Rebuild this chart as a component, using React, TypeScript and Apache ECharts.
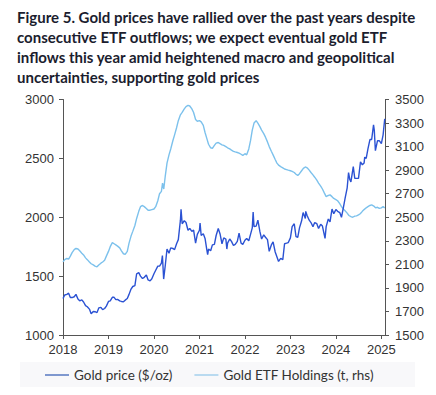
import React, { useEffect, useRef } from "react";
import * as echarts from "echarts";

const titleLines = [
  "Figure 5. Gold prices have rallied over the past years despite",
  "consecutive ETF outflows; we expect eventual gold ETF",
  "inflows this year amid heightened macro and geopolitical",
  "uncertainties, supporting gold prices",
];

const seriesNames = ["Gold price ($/oz)", "Gold ETF Holdings (t, rhs)"];
const yearTicks = [2018, 2019, 2020, 2021, 2022, 2023, 2024, 2025];

const goldDates = [
  "2018-01-01","2018-01-15","2018-02-01","2018-02-15","2018-03-01","2018-03-15","2018-04-01","2018-04-15","2018-05-01","2018-05-15","2018-06-01","2018-06-15","2018-07-01","2018-07-15","2018-08-01","2018-08-15","2018-09-01","2018-09-15","2018-10-01","2018-10-15","2018-11-01","2018-11-15","2018-12-01","2018-12-15",
  "2019-01-01","2019-01-15","2019-02-01","2019-02-15","2019-03-01","2019-03-15","2019-04-01","2019-04-15","2019-05-01","2019-05-15","2019-06-01","2019-06-15","2019-07-01","2019-07-15","2019-08-01","2019-08-15","2019-09-01","2019-09-15","2019-10-01","2019-10-15","2019-11-01","2019-11-15","2019-12-01","2019-12-15",
  "2020-01-01","2020-01-15","2020-02-01","2020-02-15","2020-03-01","2020-03-09","2020-03-19","2020-04-01","2020-04-15","2020-05-01","2020-05-15","2020-06-01","2020-06-15","2020-07-01","2020-07-15","2020-08-01","2020-08-06","2020-08-15","2020-09-01","2020-09-15","2020-10-01","2020-10-15","2020-11-01","2020-11-15","2020-12-01","2020-12-15",
  "2021-01-01","2021-01-06","2021-01-15","2021-02-01","2021-02-15","2021-03-01","2021-03-08","2021-03-15","2021-04-01","2021-04-15","2021-05-01","2021-05-15","2021-06-01","2021-06-15","2021-07-01","2021-07-15","2021-08-01","2021-08-09","2021-08-15","2021-09-01","2021-09-15","2021-10-01","2021-10-15","2021-11-01","2021-11-15","2021-12-01","2021-12-15",
  "2022-01-01","2022-01-15","2022-02-01","2022-02-15","2022-03-01","2022-03-08","2022-03-15","2022-04-01","2022-04-15","2022-05-01","2022-05-15","2022-06-01","2022-06-15","2022-07-01","2022-07-15","2022-08-01","2022-08-15","2022-09-01","2022-09-28","2022-10-15","2022-11-01","2022-11-15","2022-12-01","2022-12-15",
  "2023-01-01","2023-01-15","2023-02-01","2023-02-15","2023-03-01","2023-03-15","2023-04-01","2023-04-13","2023-05-01","2023-05-04","2023-05-15","2023-06-01","2023-06-15","2023-07-01","2023-07-15","2023-08-01","2023-08-15","2023-09-01","2023-09-15","2023-10-06","2023-10-15","2023-11-01","2023-11-15","2023-12-01","2023-12-15",
  "2024-01-01","2024-01-15","2024-02-01","2024-02-15","2024-03-01","2024-03-15","2024-04-01","2024-04-12","2024-04-22","2024-05-01","2024-05-20","2024-06-01","2024-06-15","2024-07-01","2024-07-17","2024-08-01","2024-08-15","2024-08-20","2024-09-01","2024-09-15","2024-10-01","2024-10-15","2024-10-30","2024-11-05","2024-11-14","2024-12-01","2024-12-15",
  "2025-01-01","2025-01-15","2025-01-28",
];
const goldValues = [
  1310,1340,1345,1355,1318,1318,1325,1345,1305,1290,1298,1280,1250,1240,1220,1180,1200,1198,1190,1230,1235,1215,1225,1245,
  1285,1290,1320,1320,1300,1302,1290,1285,1282,1296,1310,1345,1390,1412,1420,1520,1530,1500,1480,1490,1510,1468,1460,1478,
  1520,1550,1585,1585,1610,1675,1475,1590,1730,1695,1740,1735,1725,1775,1810,1975,2067,1945,1970,1955,1890,1905,1880,1890,1780,1855,
  1890,1950,1845,1860,1820,1725,1683,1730,1715,1765,1770,1845,1905,1860,1775,1825,1815,1730,1780,1815,1795,1760,1770,1795,1865,1780,1770,
  1805,1820,1800,1855,1910,2045,1920,1925,1975,1880,1815,1850,1830,1810,1710,1765,1790,1705,1625,1650,1640,1775,1780,1785,
  1825,1920,1945,1835,1830,1910,1970,2040,1990,2050,2015,1975,1955,1920,1955,1945,1905,1940,1925,1820,1920,1985,1960,2070,2030,
  2065,2050,2040,2000,2080,2160,2250,2380,2320,2300,2430,2330,2330,2330,2470,2445,2460,2510,2500,2580,2660,2660,2785,2740,2565,2650,2650,
  2625,2700,2835,
];

const etfDates = [
  "2018-01-01","2018-01-15","2018-02-01","2018-02-15","2018-03-01","2018-03-15","2018-04-01","2018-04-15","2018-05-01","2018-05-15","2018-06-01","2018-06-15","2018-07-01","2018-07-15","2018-08-01","2018-08-15","2018-09-01","2018-09-15","2018-10-01","2018-10-15","2018-11-01","2018-11-15","2018-12-01","2018-12-15",
  "2019-01-01","2019-01-15","2019-02-01","2019-02-15","2019-03-01","2019-03-15","2019-04-01","2019-04-15","2019-05-01","2019-05-15","2019-06-01","2019-06-15","2019-07-01","2019-07-15","2019-08-01","2019-08-15","2019-09-01","2019-09-15","2019-10-01","2019-10-15","2019-11-01","2019-11-15","2019-12-01","2019-12-15",
  "2020-01-01","2020-01-15","2020-02-01","2020-02-15","2020-03-01","2020-03-10","2020-03-20","2020-04-01","2020-04-15","2020-05-01","2020-05-15","2020-06-01","2020-06-15","2020-07-01","2020-07-15","2020-08-01","2020-08-15","2020-09-01","2020-09-15","2020-10-01","2020-10-15","2020-11-01","2020-11-15","2020-12-01","2020-12-15",
  "2021-01-01","2021-01-15","2021-02-01","2021-02-15","2021-03-01","2021-03-15","2021-04-01","2021-04-15","2021-05-01","2021-05-15","2021-06-01","2021-06-15","2021-07-01","2021-07-15","2021-08-01","2021-08-15","2021-09-01","2021-09-15","2021-10-01","2021-10-15","2021-11-01","2021-11-15","2021-12-01","2021-12-15",
  "2022-01-01","2022-01-15","2022-02-01","2022-02-15","2022-03-01","2022-03-15","2022-04-01","2022-04-15","2022-05-01","2022-05-15","2022-06-01","2022-06-15","2022-07-01","2022-07-15","2022-08-01","2022-08-15","2022-09-01","2022-09-15","2022-10-01","2022-10-15","2022-11-01","2022-11-15","2022-12-01","2022-12-15",
  "2023-01-01","2023-01-15","2023-02-01","2023-02-15","2023-03-01","2023-03-15","2023-04-01","2023-04-15","2023-05-01","2023-05-15","2023-06-01","2023-06-15","2023-07-01","2023-07-15","2023-08-01","2023-08-15","2023-09-01","2023-09-15","2023-10-01","2023-10-15","2023-11-01","2023-11-15","2023-12-01","2023-12-15",
  "2024-01-01","2024-01-15","2024-02-01","2024-02-15","2024-03-01","2024-03-15","2024-04-01","2024-04-15","2024-05-01","2024-05-15","2024-06-01","2024-06-15","2024-07-01","2024-07-15","2024-08-01","2024-08-15","2024-09-01","2024-09-15","2024-10-01","2024-10-15","2024-11-01","2024-11-15","2024-12-01","2024-12-15",
  "2025-01-01","2025-01-15","2025-01-28",
];
const etfValues = [
  2121,2140,2150,2145,2170,2200,2225,2235,2230,2215,2195,2180,2155,2140,2120,2105,2095,2085,2079,2095,2110,2120,2135,2170,
  2210,2250,2285,2275,2265,2255,2240,2215,2190,2185,2210,2280,2340,2380,2430,2490,2550,2590,2600,2590,2575,2560,2560,2565,
  2570,2590,2640,2700,2720,2790,2740,2850,2960,3030,3080,3150,3200,3260,3320,3370,3390,3420,3440,3450,3445,3420,3390,3330,3315,
  3320,3310,3280,3220,3170,3120,3090,3085,3110,3130,3135,3125,3115,3110,3100,3090,3080,3070,3060,3055,3050,3045,3035,3025,
  3040,3030,3080,3150,3240,3300,3320,3300,3270,3240,3210,3180,3140,3100,3060,3030,2990,2960,2940,2930,2920,2910,2905,2900,
  2895,2890,2880,2865,2855,2870,2895,2915,2927,2920,2900,2880,2860,2840,2815,2790,2765,2740,2705,2675,2685,2690,2675,2660,
  2650,2640,2615,2590,2570,2555,2535,2515,2505,2500,2510,2512,2520,2530,2550,2565,2580,2590,2600,2605,2595,2580,2585,2575,
  2580,2590,2580,
];

const toYear = (s: string) => {
  const [y, m, d] = s.split("-").map(Number);
  const start = Date.UTC(y, 0, 1);
  const end = Date.UTC(y + 1, 0, 1);
  return y + (Date.UTC(y, m - 1, d) - start) / (end - start);
};

export default function App() {
  const ref = useRef<HTMLDivElement>(null);
  useEffect(() => {
    if (!ref.current) return;
    const chart = echarts.init(ref.current, null, { renderer: "svg" });
    const axisFont = { fontFamily: "Liberation Sans, Arial, sans-serif", fontSize: 13, color: "#333" };
    const plain = (v: number) => String(v);
    chart.setOption({
      animation: false,
      backgroundColor: "#fff",
      graphic: [
        { type: "rect", shape: { x: 10, y: 0, width: 426, height: 2 }, style: { fill: "#1b1d2e" } },
        { type: "rect", shape: { x: 20, y: 362, width: 395, height: 33 }, style: { fill: "#f8f8fa" }, z: -10 },
        ...titleLines.map((t, i) => ({
          type: "text",
          left: 17,
          top: 9 + i * 20,
          style: {
            text: t,
            fill: "#1b1d2e",
            font: "bold 15px Lato, 'Noto Sans', sans-serif",
          },
        })),
      ],
      grid: { left: 63, right: 51, top: 99.5, bottom: 60 },
      legend: {
        bottom: 8,
        left: 40,
        itemWidth: 24,
        itemHeight: 2,
        itemGap: 22,
        icon: "rect",
        textStyle: { fontFamily: "Lato, 'Noto Sans', sans-serif", fontSize: 13.5, color: "#333" },
        data: [
          { name: seriesNames[0], itemStyle: { color: "#7f98cf" } },
          { name: seriesNames[1], itemStyle: { color: "#b9daf0" } },
        ],
      },
      xAxis: {
        type: "value",
        min: yearTicks[0],
        max: 2025.08,
        interval: 1,
        splitLine: { show: false },
        axisLine: { show: true, lineStyle: { color: "#555" } },
        axisTick: { show: true, length: 4, lineStyle: { color: "#555" } },
        axisLabel: {
          ...axisFont,
          margin: 8,
          showMaxLabel: false,
          formatter: (v: number) => (yearTicks.includes(Math.round(v * 1000) / 1000) ? String(v) : ""),
        },
      },
      yAxis: [
        {
          type: "value",
          min: 1000,
          max: 3000,
          interval: 500,
          position: "left",
          splitLine: { show: false },
          axisLine: { show: true, lineStyle: { color: "#555" } },
          axisTick: { show: true, length: 4, lineStyle: { color: "#555" } },
          axisLabel: { ...axisFont, margin: 9, formatter: plain },
        },
        {
          type: "value",
          min: 1500,
          max: 3500,
          interval: 200,
          position: "right",
          splitLine: { show: false },
          axisLine: { show: true, lineStyle: { color: "#555" } },
          axisTick: { show: true, length: 4, lineStyle: { color: "#555" } },
          axisLabel: { ...axisFont, margin: 10, formatter: plain },
        },
      ],
      series: [
        {
          name: seriesNames[0],
          type: "line",
          yAxisIndex: 0,
          symbol: "none",
          data: goldDates.map((d, i) => [toYear(d), goldValues[i]]),
          lineStyle: { color: "#2b52d3", width: 1.4 },
          itemStyle: { color: "#2b52d3" },
          z: 3,
        },
        {
          name: seriesNames[1],
          type: "line",
          yAxisIndex: 1,
          symbol: "none",
          data: etfDates.map((d, i) => [toYear(d), etfValues[i]]),
          lineStyle: { color: "#7cc1ec", width: 1.4 },
          itemStyle: { color: "#7cc1ec" },
          z: 2,
        },
      ],
    });
    return () => chart.dispose();
  }, []);
  return <div ref={ref} style={{ width: 436, height: 395, margin: -8 }} />;
}
